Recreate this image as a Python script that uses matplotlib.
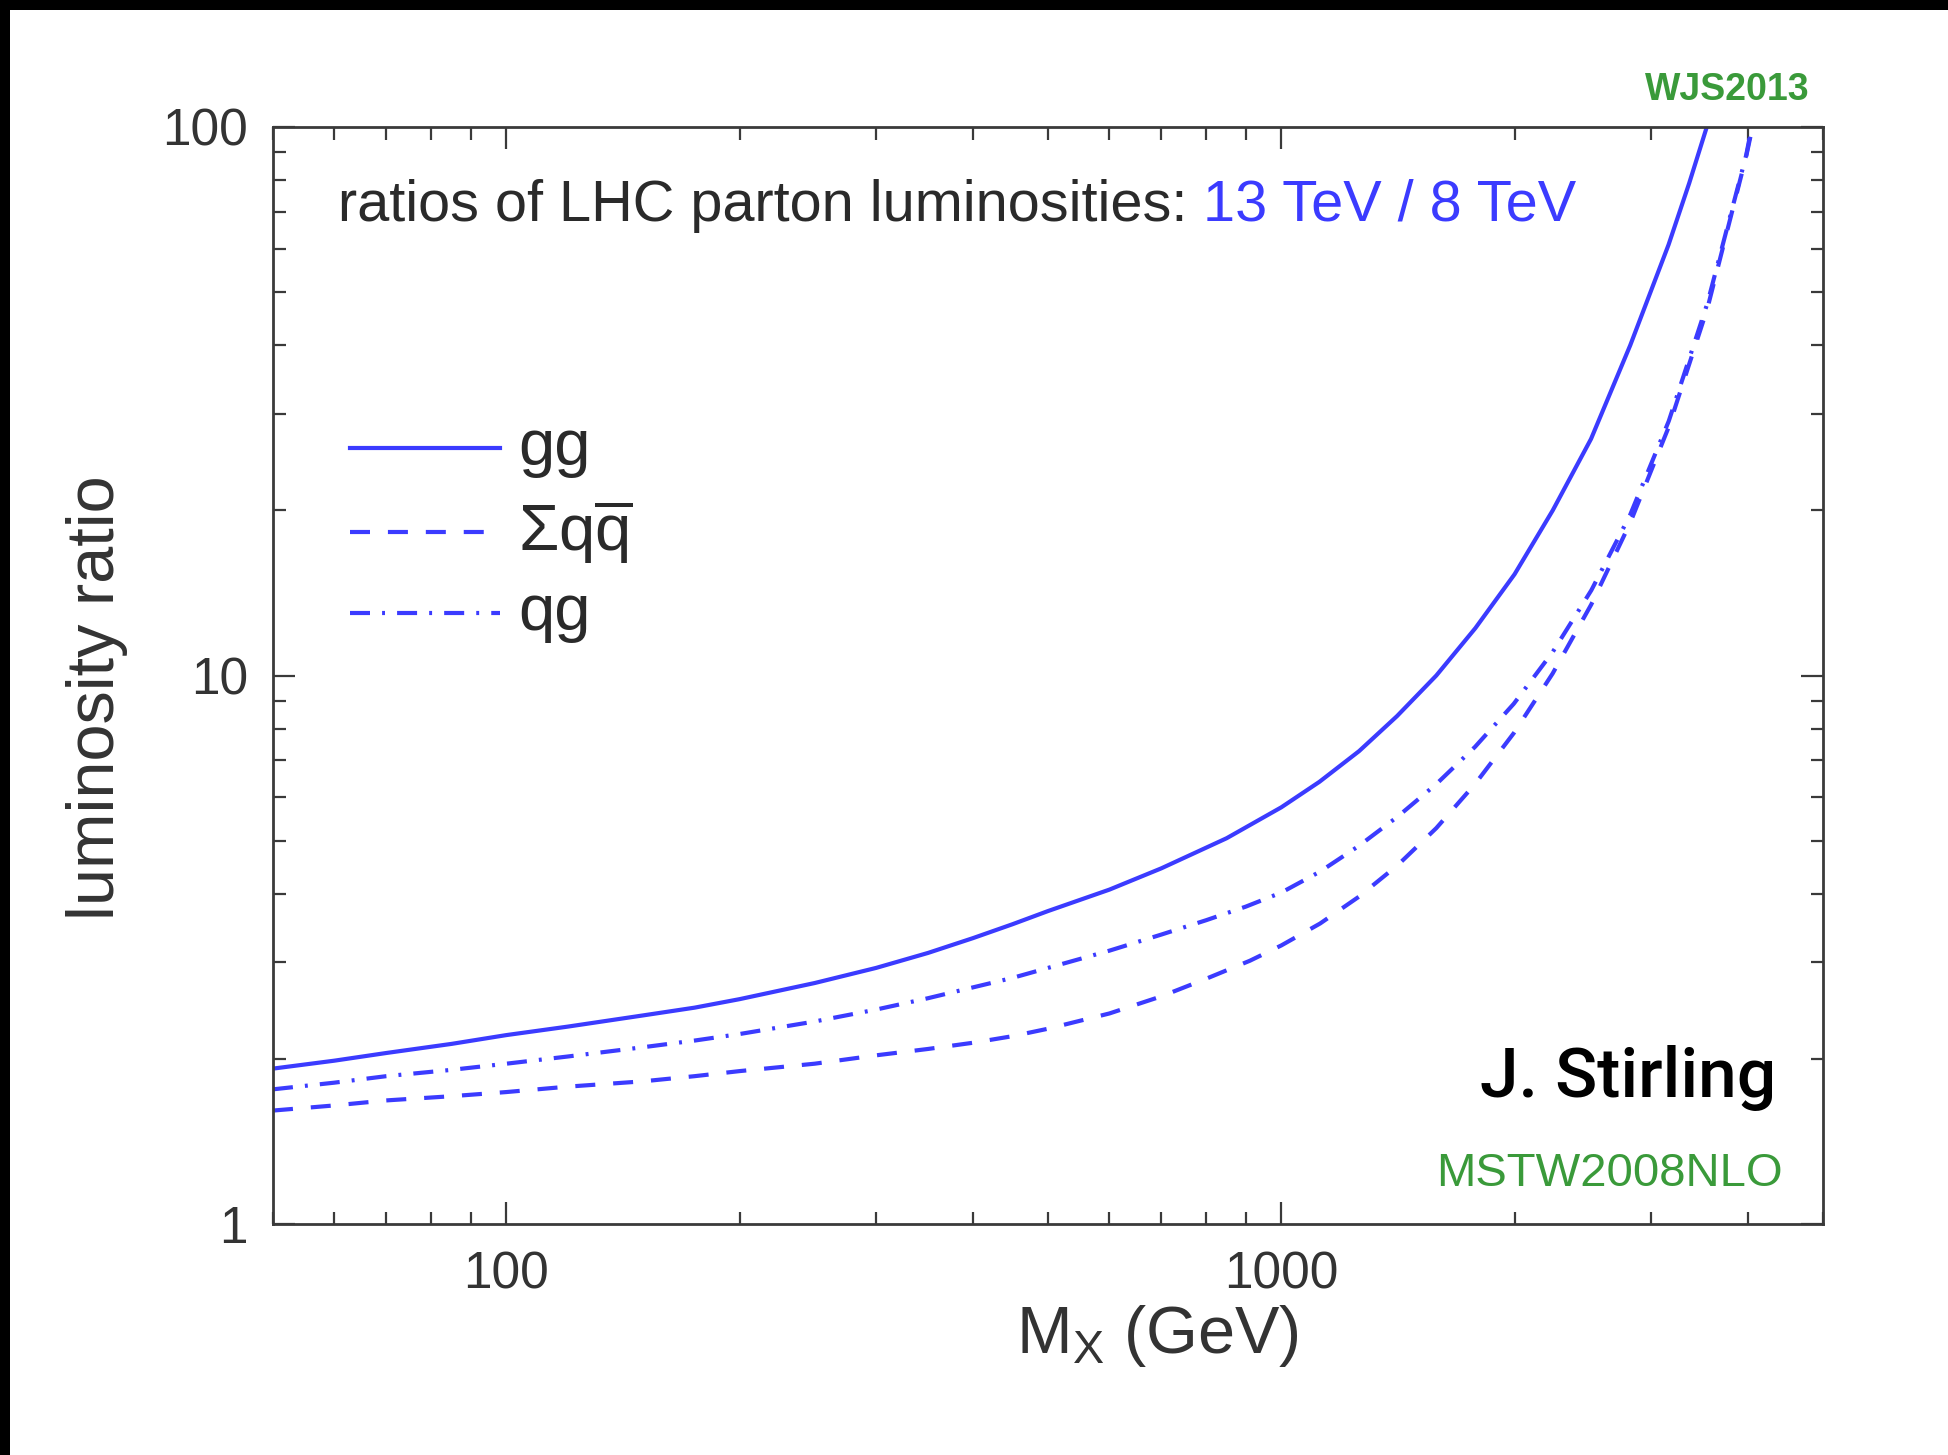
import matplotlib
matplotlib.use("Agg")
import matplotlib.pyplot as plt
from matplotlib.patches import Rectangle
from matplotlib.ticker import LogLocator, FuncFormatter, NullFormatter
from matplotlib.lines import Line2D

plt.rcParams['font.family'] = ['Liberation Sans', 'DejaVu Sans']
plt.rcParams['mathtext.fontset'] = 'custom'
plt.rcParams['mathtext.rm'] = 'Liberation Sans'
plt.rcParams['mathtext.it'] = 'Liberation Sans:italic'

# Parton luminosity ratios 13 TeV / 8 TeV (MSTW2008NLO)
mx_gg = [50, 60, 70, 85, 100, 120, 150, 175, 200, 250, 300, 350, 400, 450,
         500, 600, 700, 850, 1000, 1120, 1260, 1410, 1585, 1780, 2000, 2240,
         2510, 2820, 3160, 3360, 3540]
ratio_gg = [1.92, 1.985, 2.05, 2.13, 2.21, 2.29, 2.40, 2.48, 2.57, 2.75,
            2.93, 3.12, 3.32, 3.52, 3.72, 4.07, 4.45, 5.05, 5.75, 6.40, 7.28,
            8.43, 10.0, 12.2, 15.3, 20.0, 27.0, 40.0, 61.0, 79.0, 100.0]

mx_qg = [50, 60, 70, 85, 100, 120, 150, 175, 200, 250, 300, 350, 400, 450,
         500, 600, 700, 800, 900, 1000, 1122, 1259, 1413, 1585, 1778, 1995,
         2239, 2512, 2818, 3162, 3548, 3981, 4045]
ratio_qg = [1.76, 1.81, 1.86, 1.91, 1.96, 2.02, 2.10, 2.16, 2.22, 2.34,
            2.46, 2.58, 2.70, 2.81, 2.93, 3.15, 3.37, 3.58, 3.79, 4.02, 4.39,
            4.89, 5.53, 6.34, 7.41, 8.88, 11.03, 14.3, 19.6, 29.1, 47.8,
            89.0, 100.0]

mx_qq = [50, 60, 70, 85, 100, 120, 150, 175, 200, 250, 300, 350, 400, 450,
         500, 600, 700, 800, 911, 1000, 1122, 1259, 1413, 1585, 1778, 1995,
         2239, 2512, 2818, 3162, 3548, 3981, 4055]
ratio_qq = [1.61, 1.645, 1.68, 1.71, 1.74, 1.78, 1.82, 1.86, 1.90, 1.96,
            2.03, 2.085, 2.14, 2.20, 2.27, 2.42, 2.60, 2.80, 3.02, 3.22, 3.53,
            3.95, 4.51, 5.27, 6.34, 7.85, 10.08, 13.48, 18.95, 28.4, 46.8,
            88.6, 100.0]

series_labels = ['gg', r'$\Sigma\mathrm{q}\overline{\mathrm{q}}$', 'qg']

x_limits = (50, 5000)
y_limits = (1, 100)
x_tick_values = [100, 1000]
y_tick_values = [1, 10, 100]

BLUE = '#3b3bff'
GREEN = '#3a9a3a'
AXCOL = '#3a3a3a'
LW = 3.0
DASHED = (0, (4.8, 4.3))
DASHDOT = (0, (4.8, 2.9, 0.7, 2.9))

W, H = 1948, 1455
fig = plt.figure(figsize=(W / 100, H / 100), dpi=100)
fig.patch.set_facecolor('white')

# black frame strips along the top and left edges
fig.patches.append(Rectangle((0, 1 - 10 / H), 1, 10 / H, transform=fig.transFigure,
                             facecolor='black', edgecolor='none', zorder=10))
fig.patches.append(Rectangle((0, 0), 10 / W, 1, transform=fig.transFigure,
                             facecolor='black', edgecolor='none', zorder=10))

ax = fig.add_axes([273 / W, 1 - 1224 / H, 1550 / W, 1097 / H])
ax.set_xscale('log')
ax.set_yscale('log')
ax.set_xlim(*x_limits)
ax.set_ylim(*y_limits)

ax.plot(mx_gg, ratio_gg, color=BLUE, lw=LW, linestyle='-', solid_joinstyle='round')
ax.plot(mx_qq, ratio_qq, color=BLUE, lw=LW, linestyle=DASHED)
ax.plot(mx_qg, ratio_qg, color=BLUE, lw=LW, linestyle=DASHDOT)

for sp in ax.spines.values():
    sp.set_color(AXCOL)
    sp.set_linewidth(2.0)

fmt = FuncFormatter(lambda v, p: f'{v:g}')
ax.xaxis.set_minor_locator(LogLocator(base=10, subs=tuple(range(2, 10))))
ax.yaxis.set_minor_locator(LogLocator(base=10, subs=tuple(range(2, 10))))
ax.set_xticks(x_tick_values)
ax.set_yticks(y_tick_values)
ax.xaxis.set_major_formatter(fmt)
ax.yaxis.set_major_formatter(fmt)
ax.xaxis.set_minor_formatter(NullFormatter())
ax.yaxis.set_minor_formatter(NullFormatter())
ax.tick_params(which='both', direction='in', top=True, right=True,
               color=AXCOL, labelcolor='#333333', labelsize=37)
ax.tick_params(which='major', length=16, width=1.6)
ax.tick_params(which='minor', length=9, width=1.6)
ax.tick_params(axis='x', which='major', pad=19)
ax.tick_params(axis='y', which='major', pad=18)

# axis titles
fig.text(1157 / W, 1 - 1336 / H, r'M$_{\mathrm{X}}$ (GeV)', ha='center', va='center',
         fontsize=48, color='#333333')
fig.text(97 / W, 1 - 698 / H, 'luminosity ratio', ha='center', va='center',
         rotation=90, fontsize=48, color='#333333')

# heading, two colours on one baseline
t1 = ax.text(0.042, 0.9146, 'ratios of LHC parton luminosities: ', transform=ax.transAxes,
             ha='left', va='baseline', fontsize=41.5, color='#2a2a2a')
fig.canvas.draw()
bb = t1.get_window_extent()
x_ax = ax.transAxes.inverted().transform((bb.x1, 0))[0]
ax.text(x_ax, 0.9146, '13 TeV / 8 TeV', transform=ax.transAxes,
        ha='left', va='baseline', fontsize=41.5, color=BLUE)

# key
key_rows = [0.7074, 0.6308, 0.557]
key_styles = ['-', DASHED, DASHDOT]
for yk, ls, lab in zip(key_rows, key_styles, series_labels):
    ax.add_line(Line2D([0.0497, 0.1465], [yk, yk], transform=ax.transAxes,
                       color=BLUE, lw=LW, linestyle=ls))
    ax.text(0.158, yk, lab, transform=ax.transAxes, ha='left', va='center',
            fontsize=47, color='#2a2a2a')

ax.text(0.970, 0.1158, 'J. Stirling', transform=ax.transAxes, ha='right',
        va='baseline', fontsize=50, color='black', family=['Roboto', 'DejaVu Sans'],
        fontweight='medium')
ax.text(0.974, 0.0346, 'MSTW2008NLO', transform=ax.transAxes, ha='right',
        va='baseline', fontsize=34, color=GREEN)
ax.text(0.9916, 1.0246, 'WJS2013', transform=ax.transAxes, ha='right',
        va='baseline', fontsize=27, color=GREEN, fontweight='bold')

fig.savefig('out.png', dpi=100, facecolor='white')
